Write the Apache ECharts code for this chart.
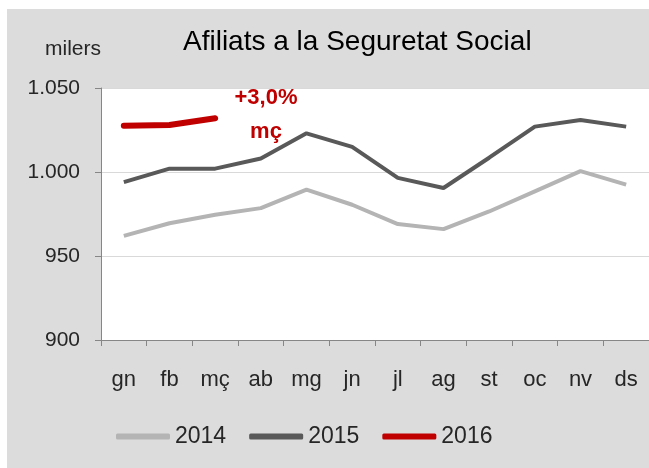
<!DOCTYPE html>
<html>
<head>
<meta charset="utf-8">
<script src="https://cdn.jsdelivr.net/npm/echarts@6/dist/echarts.min.js"></script>
<style>
    html, body { margin: 0; padding: 0; background: #fff; }
    #chart { position: absolute; left: 7px; top: 9px; width: 642px; height: 459px; }
</style>
</head>
<body>
<div id="chart"></div>
<script>
    // mesos
    var mesos = ['gn', 'fb', 'mç', 'ab', 'mg', 'jn', 'jl', 'ag', 'st', 'oc', 'nv', 'ds'];
    // afiliats (milers)
    var any2014 = [962, 969.5, 974.5, 978.5, 989.5, 980.5, 969, 966, 976.5, 988.5, 1000.5, 992.5];
    var any2015 = [994, 1002, 1002, 1008, 1023, 1015, 996.5, 990.5, 1008.5, 1027, 1031, 1027];
    var any2016 = [1027.5, 1028, 1032];
    var anys = ['2014', '2015', '2016'];

    var font = 'Liberation Sans';
    var chart = echarts.init(document.getElementById('chart'));

    var option = {
        backgroundColor: '#dcdcdc',
        animation: false,
        title: {
            text: 'Afiliats a la Seguretat Social',
            left: 171,
            top: 14,
            textStyle: { fontFamily: font, fontSize: 28, fontWeight: 'normal', color: '#000' }
        },
        // llegenda amb línies simples
        legend: {
            data: anys,
            left: 104,
            top: 411,
            icon: 'roundRect',
            itemWidth: 54,
            itemHeight: 6,
            itemGap: 23,
            textStyle: { fontFamily: font, fontSize: 23, color: '#262626' }
        },
        grid: {
            left: 94,
            top: 79,
            right: -8,
            bottom: 128,
            show: true,
            backgroundColor: '#fff',
            borderWidth: 0
        },
        xAxis: {
            type: 'category',
            data: mesos,
            boundaryGap: true,
            axisLine: { lineStyle: { color: '#868686', width: 1 } },
            axisTick: { show: true, length: 6, lineStyle: { color: '#868686' } },
            axisLabel: { fontFamily: font, fontSize: 22, color: '#262626', margin: 29 }
        },
        yAxis: {
            type: 'value',
            min: 900,
            max: 1050,
            interval: 50,
            axisLine: { show: true, lineStyle: { color: '#868686', width: 1 } },
            axisTick: { show: true, length: 6, lineStyle: { color: '#868686' } },
            splitLine: { lineStyle: { color: '#d9d9d9', width: 1 } },
            axisLabel: {
                fontFamily: font, fontSize: 21, color: '#262626', margin: 21,
                formatter: function (v) {
                    return v >= 1000 ? Math.floor(v / 1000) + '.' + String(v % 1000).padStart(3, '0') : String(v);
                }
            }
        },
        graphic: [
            {
                type: 'text', left: 38, top: 30,
                style: { text: 'milers', fontFamily: font, fontSize: 21, fill: '#262626' }
            },
            {
                type: 'text', x: 259, y: 106,
                style: {
                    text: '+3,0%\nmç', fontFamily: font, fontSize: 22, fontWeight: 'bold',
                    fill: '#c00000', align: 'center', verticalAlign: 'middle', lineHeight: 34
                }
            }
        ],
        series: [
            {
                name: '2014', type: 'line', data: any2014, symbol: 'none',
                lineStyle: { color: '#b4b4b4', width: 4 }, itemStyle: { color: '#b4b4b4' }
            },
            {
                name: '2015', type: 'line', data: any2015, symbol: 'none',
                lineStyle: { color: '#595959', width: 4 }, itemStyle: { color: '#595959' }
            },
            {
                name: '2016', type: 'line', data: any2016, symbol: 'none',
                lineStyle: { color: '#c00000', width: 6, cap: 'round' }, itemStyle: { color: '#c00000' }
            }
        ]
    };

    chart.setOption(option);
</script>
</body>
</html>
